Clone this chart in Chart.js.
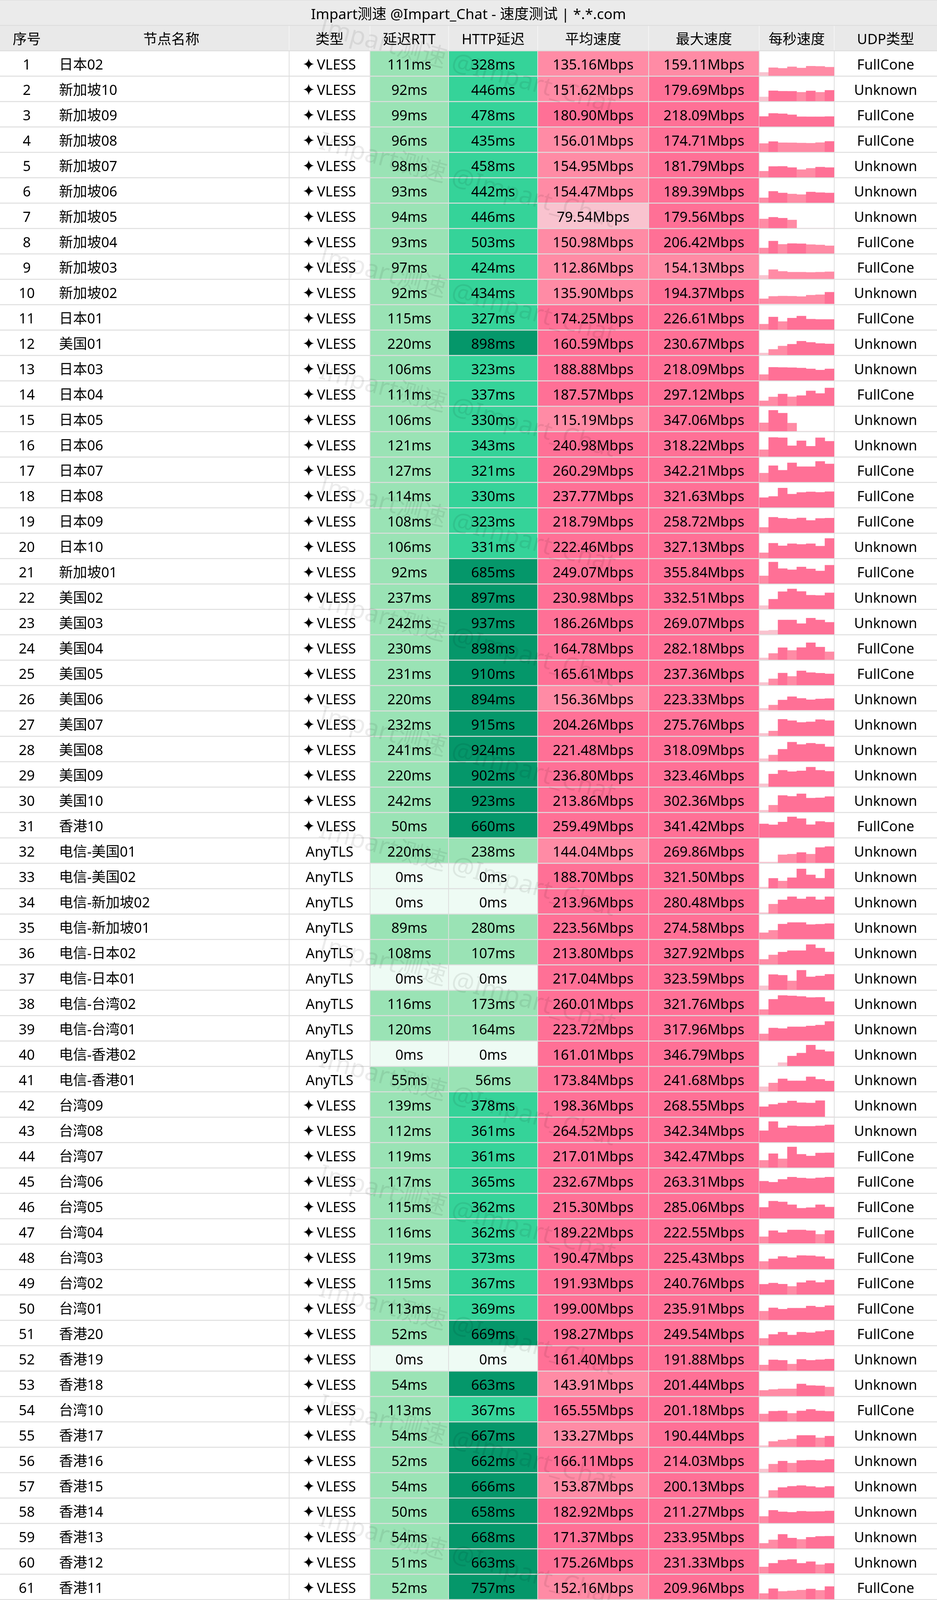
<!DOCTYPE html>
<html><head><meta charset="utf-8">
<script src="https://cdn.jsdelivr.net/npm/chart.js@4.4.1/dist/chart.umd.min.js"></script>
<style>
html,body{margin:0;padding:0;background:#fff;}
#wrap{position:relative;width:2398px;height:4875px;overflow:hidden;}
#main{position:absolute;left:0;top:0;}
.spark{position:absolute;}
</style></head><body>
<div id="wrap"><canvas id="main" width="2398" height="4875"></canvas></div>
<script>
// ---------------- DATA ----------------
const TITLE = 'Impart测速 @Impart_Chat - 速度测试 | *.*.com';
const HEADER_LABELS = ['序号','节点名称','类型','延迟RTT','HTTP延迟','平均速度','最大速度','每秒速度','UDP类型'];
const FOOTER_LINES = [
  '版本=2.0.2-dev  后端=广东珠海电信[2Gbps](4.7.1) 消耗流量=13.0GB  线程=↓8  排序=订阅原序  耗时=612s  Ping=5次  过滤器=<->',
  '测试时间: 2026-07-12T20:04:48 (CST)  测试结果仅供参考，以实际情况为准'
];
const WATERMARK = 'Impart测速 @Impart_Chat';

const names = ['日本02','新加坡10','新加坡09','新加坡08','新加坡07','新加坡06','新加坡05','新加坡04','新加坡03','新加坡02',
'日本01','美国01','日本03','日本04','日本05','日本06','日本07','日本08','日本09','日本10',
'新加坡01','美国02','美国03','美国04','美国05','美国06','美国07','美国08','美国09','美国10',
'香港10','电信-美国01','电信-美国02','电信-新加坡02','电信-新加坡01','电信-日本02','电信-日本01','电信-台湾02','电信-台湾01','电信-香港02',
'电信-香港01','台湾09','台湾08','台湾07','台湾06','台湾05','台湾04','台湾03','台湾02','台湾01',
'香港20','香港19','香港18','台湾10','香港17','香港16','香港15','香港14','香港13','香港12',
'香港11','香港01','香港09','香港08','香港07','香港06','香港05','香港04','香港03','香港02'];

const types = ['VLESS','VLESS','VLESS','VLESS','VLESS','VLESS','VLESS','VLESS','VLESS','VLESS',
'VLESS','VLESS','VLESS','VLESS','VLESS','VLESS','VLESS','VLESS','VLESS','VLESS',
'VLESS','VLESS','VLESS','VLESS','VLESS','VLESS','VLESS','VLESS','VLESS','VLESS',
'VLESS','AnyTLS','AnyTLS','AnyTLS','AnyTLS','AnyTLS','AnyTLS','AnyTLS','AnyTLS','AnyTLS',
'AnyTLS','VLESS','VLESS','VLESS','VLESS','VLESS','VLESS','VLESS','VLESS','VLESS',
'VLESS','VLESS','VLESS','VLESS','VLESS','VLESS','VLESS','VLESS','VLESS','VLESS',
'VLESS','VLESS','VLESS','VLESS','VLESS','VLESS','VLESS','VLESS','VLESS','VLESS'];

const rtt = [111,92,99,96,98,93,94,93,97,92,
115,220,106,111,106,121,127,114,108,106,
92,237,242,230,231,220,232,241,220,242,
50,220,0,0,89,108,0,116,120,0,
55,139,112,119,117,115,116,119,115,113,
52,0,54,113,54,52,54,50,54,51,
52,52,55,55,52,53,53,52,52,54];

const http = [328,446,478,435,458,442,446,503,424,434,
327,898,323,337,330,343,321,330,323,331,
685,897,937,898,910,894,915,924,902,923,
660,238,0,0,280,107,0,173,164,0,
56,378,361,361,365,362,362,373,367,369,
669,0,663,367,667,662,666,658,668,663,
757,667,668,666,668,702,668,673,664,664];

const avgSpeed = [135.16,151.62,180.90,156.01,154.95,154.47,79.54,150.98,112.86,135.90,
174.25,160.59,188.88,187.57,115.19,240.98,260.29,237.77,218.79,222.46,
249.07,230.98,186.26,164.78,165.61,156.36,204.26,221.48,236.80,213.86,
259.49,144.04,188.70,213.96,223.56,213.80,217.04,260.01,223.72,161.01,
173.84,198.36,264.52,217.01,232.67,215.30,189.22,190.47,191.93,199.00,
198.27,161.40,143.91,165.55,133.27,166.11,153.87,182.92,171.37,175.26,
152.16,185.78,174.94,194.60,184.47,151.87,165.14,168.63,179.90,148.64];

const maxSpeed = [159.11,179.69,218.09,174.71,181.79,189.39,179.56,206.42,154.13,194.37,
226.61,230.67,218.09,297.12,347.06,318.22,342.21,321.63,258.72,327.13,
355.84,332.51,269.07,282.18,237.36,223.33,275.76,318.09,323.46,302.36,
341.42,269.86,321.50,280.48,274.58,327.92,323.59,321.76,317.96,346.79,
241.68,268.55,342.34,342.47,263.31,285.06,222.55,225.43,240.76,235.91,
249.54,191.88,201.44,201.18,190.44,214.03,200.13,211.27,233.95,231.33,
209.96,232.77,189.12,233.82,207.34,173.27,193.84,208.52,218.35,172.09];

const udpType = ['FullCone','Unknown','FullCone','FullCone','Unknown','Unknown','Unknown','FullCone','FullCone','Unknown',
'FullCone','Unknown','Unknown','FullCone','Unknown','Unknown','FullCone','FullCone','FullCone','Unknown',
'FullCone','Unknown','Unknown','FullCone','FullCone','Unknown','Unknown','Unknown','Unknown','Unknown',
'FullCone','Unknown','Unknown','Unknown','Unknown','Unknown','Unknown','Unknown','Unknown','Unknown',
'Unknown','Unknown','Unknown','FullCone','FullCone','FullCone','FullCone','FullCone','FullCone','FullCone',
'FullCone','Unknown','Unknown','FullCone','Unknown','Unknown','Unknown','Unknown','Unknown','Unknown',
'FullCone','FullCone','FullCone','FullCone','FullCone','FullCone','FullCone','FullCone','FullCone','FullCone'];

const SECONDS = ['1s','2s','3s','4s','5s','6s','7s','8s'];
// per-second speeds (Mbps), one list per node
const perSecond = [
[57,134,124,149,129,159,156,143],[71,172,165,164,148,170,148,180],[167,218,212,195,163,162,162,166],[140,172,153,152,148,145,155,175],
[102,180,182,162,128,150,170,162],[82,189,162,145,135,178,168,162],[152,180,165,135,0,0,0,0],[92,206,152,165,162,148,142,128],
[60,154,125,112,112,108,112,118],[85,125,130,128,122,145,152,194],[92,210,135,192,226,175,170,170],[35,95,150,180,230,210,192,185],
[98,218,215,212,206,192,172,192],[84,148,196,150,170,248,205,297],[140,347,300,135,0,0,0,0],[115,318,312,180,262,172,312,255],
[148,270,195,318,255,255,342,300],[162,182,321,220,248,258,250,260],[90,258,242,228,246,205,238,243],[90,248,205,240,228,240,200,327],
[128,356,248,228,276,243,209,305],[57,162,286,332,290,228,224,267],[60,70,238,238,178,269,238,200],[32,105,200,155,202,282,210,132],
[45,105,200,145,237,208,198,187],[30,85,168,223,195,172,186,192],[43,82,275,252,224,233,271,252],[45,105,200,318,278,300,285,240],
[50,210,272,250,262,323,272,255],[32,115,275,260,302,232,236,258],[226,210,256,341,312,212,266,253],[15,15,135,145,172,145,255,270],
[20,165,120,175,321,222,167,320],[18,158,228,280,245,279,230,280],[105,145,248,274,274,240,246,256],[85,158,205,228,228,328,270,208],
[68,252,242,148,323,215,230,258],[88,257,321,314,305,286,290,220],[112,209,200,228,228,243,257,318],[0,0,57,165,214,347,267,240],
[78,140,208,175,175,241,200,172],[167,205,228,262,233,228,268,0],[190,342,238,271,262,262,271,286],[120,230,145,342,220,192,242,245],
[195,178,225,262,248,238,251,263],[182,285,272,225,168,178,225,187],[110,210,178,222,222,210,150,212],[128,170,210,190,225,222,208,171],
[170,190,172,135,198,230,200,240],[145,200,178,195,195,230,212,236],[115,180,218,170,218,208,228,249],[95,180,172,110,188,172,182,192],
[95,110,120,120,201,175,170,150],[125,170,175,135,175,201,175,168],[22,90,115,130,190,190,150,178],[55,135,185,152,195,200,194,214],
[15,120,168,188,200,185,168,187],[110,211,186,178,196,190,192,200],[85,142,234,172,150,185,200,203],[108,168,220,231,168,195,145,167],
[95,175,130,138,151,170,148,210],[95,195,195,155,232,196,225,193],[142,182,181,174,176,189,186,170],[135,210,225,200,234,172,190,191],
[152,175,181,181,178,198,206,205],[122,148,128,155,155,168,173,166],[120,194,184,184,170,145,175,149],[132,185,155,172,130,176,190,208],
[135,188,218,218,205,145,175,155],[132,122,156,138,168,172,146,156]
];

// ---------------- LAYOUT / STYLE ----------------
const W = 2398, H = 4875;
const FONT = "'Noto Sans','Noto Sans CJK SC',sans-serif";
const COLS = {seq:[0,137], name:[137,740], type:[740,947], rtt:[947,1148], http:[1148,1376],
  avg:[1376,1660], max:[1660,1943], spark:[1943,2135], udp:[2135,2398]};
const HEADER_KEYS = ['seq','name','type','rtt','http','avg','max','spark','udp'];
const PINK = {pale:'#f9c3cf', light:'#ff8ba5', dark:'#ff7096'};
const GREEN = {zero:'#eefbf4', light:'#9ae3b5', mid:'#35d399', dark:'#05976a'};
const speedColor = v => v < 80 ? PINK.pale : (v < 160 ? PINK.light : PINK.dark);
const latencyColor = v => v === 0 ? GREEN.zero : (v < 300 ? GREEN.light : (v < 600 ? GREEN.mid : GREEN.dark));

const N = names.length;
const yLabels = ['title','header', ...names.map((_, i) => String(i + 1)), 'gap', 'footer1', 'footer2'];
const ROW0 = 2;
const FRAME_ROWS = {title:'#ebebeb', header:'#e9e9e9', gap:'#ffffff', footer1:'#ebebeb', footer2:'#ebebeb'};

function cellDataset(label, span, colorFn, inset) {
  const L = inset === false ? span[0] : span[0] + 1;
  const R = span[1] >= W ? W : span[1] - 1;
  return {
    label,
    data: yLabels.map((_, j) => (j >= ROW0 && j < ROW0 + N) ? [L, R] : null),
    backgroundColor: yLabels.map((_, j) => (j >= ROW0 && j < ROW0 + N) ? colorFn(j - ROW0) : 'rgba(0,0,0,0)'),
    grouped: false, barPercentage: 0.96, categoryPercentage: 1, borderWidth: 0
  };
}

const datasets = [
  { label:'frame',
    data: yLabels.map(l => FRAME_ROWS[l] ? [0, W] : null),
    backgroundColor: yLabels.map(l => FRAME_ROWS[l] || 'rgba(0,0,0,0)'),
    grouped:false, barPercentage:0.96, categoryPercentage:1, borderWidth:0 },
  cellDataset('node', [COLS.seq[0], COLS.name[1]], () => '#ffffff', false),
  cellDataset('type', COLS.type, () => '#ffffff'),
  cellDataset('rtt', COLS.rtt, i => latencyColor(rtt[i])),
  cellDataset('http', COLS.http, i => latencyColor(http[i])),
  cellDataset('avg', COLS.avg, i => speedColor(avgSpeed[i])),
  cellDataset('max', COLS.max, i => speedColor(maxSpeed[i])),
  cellDataset('spark', COLS.spark, () => '#ffffff'),
  cellDataset('udp', COLS.udp, () => '#ffffff')
];

const bgPlugin = {
  id:'bg',
  beforeDraw(chart){ const c = chart.ctx; c.save(); c.fillStyle = '#dedede'; c.fillRect(0,0,chart.width,chart.height); c.restore(); }
};

function drawStar(ctx, cx, cy) {
  ctx.beginPath();
  ctx.moveTo(cx, cy - 14.5);
  ctx.quadraticCurveTo(cx + 1.6, cy - 1.6, cx + 14, cy);
  ctx.quadraticCurveTo(cx + 1.6, cy + 1.6, cx, cy + 14.5);
  ctx.quadraticCurveTo(cx - 1.6, cy + 1.6, cx - 14, cy);
  ctx.quadraticCurveTo(cx - 1.6, cy - 1.6, cx, cy - 14.5);
  ctx.closePath();
  ctx.fill();
}

function drawHelix(ctx, x0, y0, x1, y1) {
  const dx = x1 - x0, dy = y1 - y0, len = Math.hypot(dx, dy);
  const nx = -dy / len, ny = dx / len;
  const pt = (t, s) => { const a = 6 * Math.sin(t * Math.PI * 3) * s; return [x0 + dx * t + nx * a, y0 + dy * t + ny * a]; };
  const rungs = ['#f06292','#ffd54f','#81c784','#f06292','#ffd54f'];
  ctx.lineWidth = 2.5;
  rungs.forEach((c, k) => {
    const t = (k + 0.5) / rungs.length;
    const a = pt(t, 1), b = pt(t, -1);
    ctx.strokeStyle = c; ctx.beginPath(); ctx.moveTo(a[0], a[1]); ctx.lineTo(b[0], b[1]); ctx.stroke();
  });
  [[1,'#a35ed6'],[-1,'#5b8def']].forEach(([s, c]) => {
    ctx.strokeStyle = c; ctx.lineWidth = 3.5; ctx.beginPath();
    for (let k = 0; k <= 30; k++) { const p = pt(k / 30, s); k ? ctx.lineTo(p[0], p[1]) : ctx.moveTo(p[0], p[1]); }
    ctx.stroke();
  });
}

const textPlugin = {
  id:'cellText',
  afterDatasetsDraw(chart){
    const {ctx} = chart; const x = chart.scales.x, y = chart.scales.y;
    const px = v => x.getPixelForValue(v);
    const cx = k => (px(COLS[k][0]) + px(COLS[k][1])) / 2;
    const cy = j => y.getPixelForValue(j);
    const half = y.getPixelForValue(1) - y.getPixelForValue(0);
    ctx.save();
    ctx.fillStyle = '#000'; ctx.textBaseline = 'alphabetic';
    // title
    ctx.font = `37px ${FONT}`; ctx.textAlign = 'center';
    ctx.fillText(TITLE, px(W / 2), cy(0) + 16);
    // header
    ctx.font = `36px ${FONT}`;
    HEADER_KEYS.forEach((k, i) => ctx.fillText(HEADER_LABELS[i], cx(k), cy(1) + 15));
    ctx.fillStyle = '#f4f4f4';
    ['type','rtt','http','avg','max','spark','udp'].forEach(k => {
      ctx.fillRect(px(COLS[k][0]) - 1, cy(1) - half * 0.48, 2, half * 0.96);
    });
    ctx.fillStyle = '#000';
    // rows
    for (let i = 0; i < N; i++) {
      const yy = cy(ROW0 + i) + 15;
      ctx.textAlign = 'center';
      ctx.fillText(String(i + 1), cx('seq'), yy);
      ctx.textAlign = 'left';
      ctx.fillText(names[i], px(COLS.name[0]) + 14, yy);
      if (types[i] === 'VLESS') {
        const w = ctx.measureText(types[i]).width;
        const total = 28 + 7 + w;
        const start = cx('type') - total / 2;
        drawStar(ctx, start + 14, cy(ROW0 + i) + 1.5);
        ctx.fillText(types[i], start + 35, yy);
      } else {
        ctx.textAlign = 'center';
        ctx.fillText(types[i], cx('type'), yy);
      }
      ctx.textAlign = 'center';
      ctx.fillText(rtt[i] + 'ms', cx('rtt'), yy);
      ctx.fillText(http[i] + 'ms', cx('http'), yy);
      ctx.fillText(avgSpeed[i].toFixed(2) + 'Mbps', cx('avg'), yy);
      ctx.fillText(maxSpeed[i].toFixed(2) + 'Mbps', cx('max'), yy);
      ctx.fillText(udpType[i], cx('udp'), yy);
    }
    // footer
    const f1 = yLabels.indexOf('footer1'), f2 = yLabels.indexOf('footer2');
    ctx.textAlign = 'left';
    ctx.font = `38px ${FONT}`;
    ctx.fillText(FOOTER_LINES[0], 48, cy(f1) + 11);
    ctx.fillText(FOOTER_LINES[1], 48, cy(f2) + 9);
    drawHelix(ctx, 12, cy(f1) + 13, 44, cy(f1) - 15);
    // clock icon
    const ccy = cy(f2) - 5;
    ctx.beginPath(); ctx.arc(27, ccy, 18, 0, Math.PI * 2);
    ctx.fillStyle = '#dfe7f0'; ctx.fill();
    ctx.lineWidth = 3.5; ctx.strokeStyle = '#94a3b4'; ctx.stroke();
    ctx.beginPath(); ctx.moveTo(27, ccy - 12); ctx.lineTo(27, ccy); ctx.lineTo(19, ccy + 8);
    ctx.lineWidth = 2.5; ctx.strokeStyle = '#5f6b78'; ctx.stroke();
    ctx.restore();
  },
  afterDraw(chart){
    const {ctx} = chart;
    ctx.save();
    ctx.font = `64px ${FONT}`;
    ctx.fillStyle = 'rgba(0,0,0,0.075)';
    ctx.textAlign = 'left'; ctx.textBaseline = 'top';
    for (let k = 0; k < 17; k++) {
      ctx.save();
      ctx.translate(826, 38 + 293.75 * k);
      ctx.rotate(15 * Math.PI / 180);
      ctx.fillText(WATERMARK, 0, 0);
      ctx.restore();
    }
    ctx.restore();
  }
};

const mainChart = new Chart(document.getElementById('main'), {
  type:'bar',
  data:{ labels: yLabels, datasets },
  options:{
    indexAxis:'y', responsive:false, animation:false, events:[],
    layout:{padding:0},
    plugins:{legend:{display:false}, tooltip:{enabled:false}, title:{display:false}},
    scales:{
      x:{type:'linear', min:0, max:W, display:false},
      y:{type:'category', display:false, offset:true}
    }
  },
  plugins:[bgPlugin, textPlugin]
});

// per-second mini bar charts in the 每秒速度 column
const wrap = document.getElementById('wrap');
const xS = mainChart.scales.x, yS = mainChart.scales.y;
perSecond.forEach((vals, i) => {
  const c = document.createElement('canvas');
  const left = Math.round(xS.getPixelForValue(COLS.spark[0]));
  const right = Math.round(xS.getPixelForValue(COLS.spark[1]));
  const center = yS.getPixelForValue(ROW0 + i);
  c.width = right - left; c.height = 62;
  c.className = 'spark';
  c.style.left = left + 'px'; c.style.top = Math.round(center - 31) + 'px';
  wrap.appendChild(c);
  new Chart(c, {
    type:'bar',
    data:{ labels: SECONDS, datasets:[{ data: vals, backgroundColor: vals.map(speedColor),
      barPercentage:1, categoryPercentage:1, borderWidth:0 }]},
    options:{ responsive:false, animation:false, events:[], layout:{padding:0},
      plugins:{legend:{display:false}, tooltip:{enabled:false}},
      scales:{ x:{display:false}, y:{display:false, min:0, max:400} } }
  });
});
</script></body></html>
